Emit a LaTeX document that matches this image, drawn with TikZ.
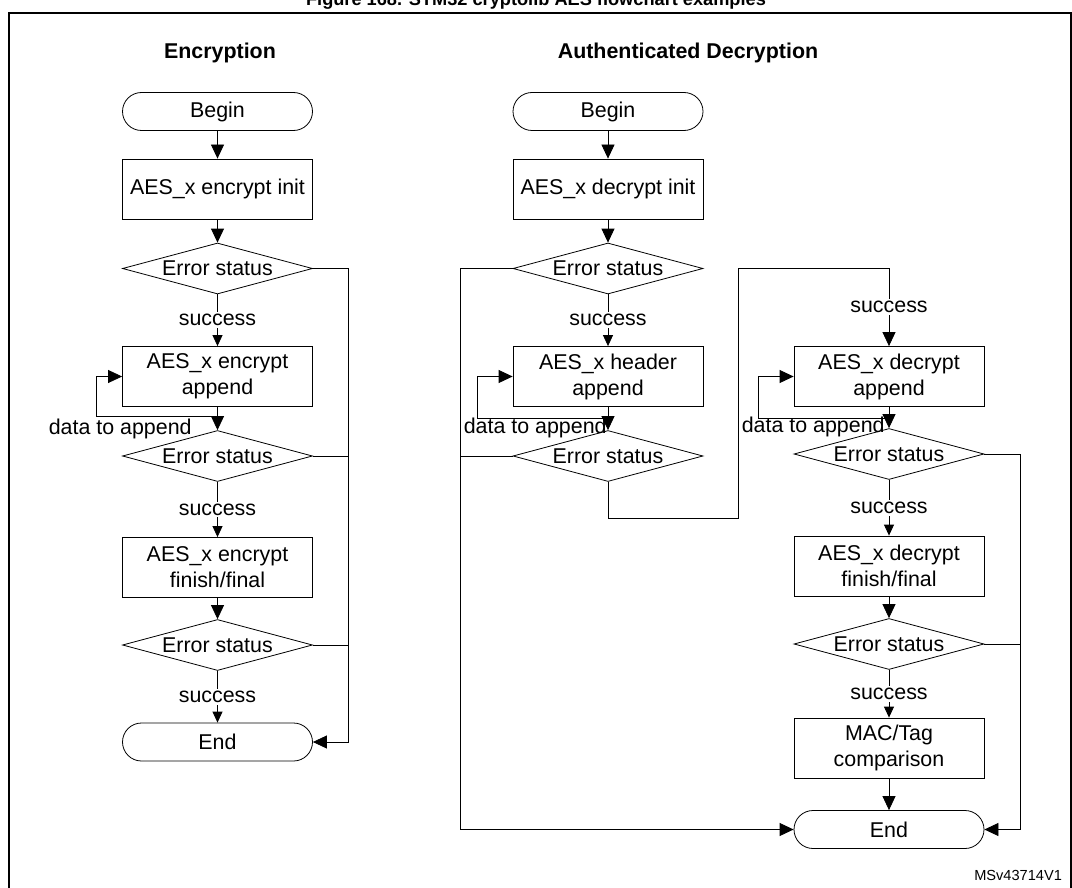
\documentclass[tikz,border=0pt]{standalone}
\usepackage{fontspec}
\setmainfont{Liberation Sans}
\usetikzlibrary{shapes.geometric, arrows.meta, positioning}

\begin{document}
\begin{tikzpicture}[
            x=0.5pt, y=-0.5pt,
            font=\fontsize{10.7}{13}\selectfont,
            >={Triangle[width=6.5pt,length=7pt]},
            proc/.style={rectangle, draw, minimum width=95pt, minimum height=30pt, align=center, inner sep=1pt},
            term/.style={rectangle, draw, rounded corners=9.5pt, minimum width=95pt, minimum height=19pt},
            dec/.style={diamond, draw, aspect=3.7, minimum width=95pt, minimum height=25.5pt, inner sep=0pt},
            head/.style={font=\fontsize{10.7}{13}\selectfont\bfseries},
            ok/.style={-{Triangle[width=5pt,length=5.5pt]}},
            lbl/.style={fill=white, inner sep=1pt}
        ]
            \useasboundingbox (0,0) rectangle (1072,888);
            \draw[line width=1pt] (9,13) rectangle (1071,900);
            \node[font=\fontsize{9.1}{11}\selectfont\bfseries, anchor=base] (figtitle) at (536,6) {Figure 168. STM32 cryptolib AES flowchart examples};

            % encryption
            \node[head] (etitle) at (220,53) {Encryption};
            \node[term] (ebegin) at (217.5,111.5) {Begin};
            \node[proc, node distance=38.75pt, below of=ebegin] (einit) {AES\_x encrypt init};
            \node[dec, node distance=39.75pt, below of=einit] (eerr1) {Error status};
            \node[proc, node distance=54pt, below of=eerr1] (eapp) {AES\_x encrypt\\append};
            \node[dec, node distance=39.75pt, below of=eapp] (eerr2) {Error status};
            \node[proc, node distance=55.75pt, below of=eerr2] (efin) {AES\_x encrypt\\finish/final};
            \node[dec, node distance=38.75pt, below of=efin] (eerr3) {Error status};
            \node[term, node distance=48.5pt, below of=eerr3] (eend) {End};
            \draw[->] (ebegin) -- (einit);
            \draw[->] (einit) -- (eerr1);
            \draw[ok] (eerr1) -- node[lbl] {success} (eapp);
            \draw[->] (eapp) -- (eerr2);
            \draw[ok] (eerr2) -- node[lbl] {success} (efin);
            \draw[->] (efin) -- (eerr3);
            \draw[ok] (eerr3) -- node[lbl] {success} (eend);
            \coordinate[below=4.5pt of eapp.south] (eloop);
            \draw[->] (eloop) -| ([xshift=-12.75pt]eapp.west) -- (eapp.west);
            \node[anchor=east, inner sep=0pt] (elbl) at ([xshift=-12.75pt, yshift=-6.5pt]eloop) {data to append};
            \draw[->] (eerr1.east) -- ++(17.75pt,0) |- (eend.east);
            \draw (eerr2.east) -- ++(17.75pt,0);
            \draw (eerr3.east) -- ++(17.75pt,0);

            % authenticated decryption
            \node[head] (dtitle) at (688,53) {Authenticated Decryption};
            \node[term] (dbegin) at (608,111.5) {Begin};
            \node[proc, node distance=38.75pt, below of=dbegin] (dinit) {AES\_x decrypt init};
            \node[dec, node distance=39.75pt, below of=dinit] (derr1) {Error status};
            \node[proc, node distance=54pt, below of=derr1] (dhdr) {AES\_x header\\append};
            \node[dec, node distance=39.75pt, below of=dhdr] (derr2) {Error status};
            \node[proc, node distance=140.5pt, right of=dhdr] (dapp) {AES\_x decrypt\\append};
            \node[dec, node distance=38.75pt, below of=dapp] (derr3) {Error status};
            \node[proc, node distance=56pt, below of=derr3] (dfin) {AES\_x decrypt\\finish/final};
            \node[dec, node distance=39pt, below of=dfin] (derr4) {Error status};
            \node[proc, node distance=52pt, below of=derr4] (dmac) {MAC/Tag\\comparison};
            \node[term, node distance=40.75pt, below of=dmac] (dend) {End};
            \draw[->] (dbegin) -- (dinit);
            \draw[->] (dinit) -- (derr1);
            \draw[ok] (derr1) -- node[lbl] {success} (dhdr);
            \draw[->] (dhdr) -- (derr2);
            \coordinate[below=5.5pt of dhdr.south] (dhloop);
            \draw[->] (dhloop) -| ([xshift=-17.75pt]dhdr.west) -- (dhdr.west);
            \node[anchor=east, inner sep=0pt] (dhlbl) at ([xshift=-0.5pt, yshift=-5pt]dhloop) {data to append};
            \draw[->] (derr2.south) -- ++(0,-18pt) -- ++(65pt,0) |- (derr1.east -| dapp.north) -- node[lbl] {success} (dapp.north);
            \draw[->] (dapp) -- (derr3);
            \coordinate[below=5.5pt of dapp.south] (daloop);
            \draw[->] (daloop) -| ([xshift=-17.75pt]dapp.west) -- (dapp.west);
            \node[anchor=east, inner sep=0pt] (dalbl) at ([xshift=-2pt, yshift=-4.5pt]daloop) {data to append};
            \draw[ok] (derr3) -- node[lbl] {success} (dfin);
            \draw[->] (dfin) -- (derr4);
            \draw[ok] (derr4) -- node[lbl] {success} (dmac);
            \draw[->] (dmac) -- (dend);
            \draw[->] (derr1.west) -- ++(-26pt,0) |- (dend.west);
            \draw (derr2.west) -- ++(-26pt,0);
            \draw[->] (derr3.east) -- ++(17.75pt,0) |- (dend.east);
            \draw (derr4.east) -- ++(17.75pt,0);

            \node[font=\fontsize{7.3}{9}\selectfont, anchor=east] (msv) at (1069,875) {MSv43714V1};
        \end{tikzpicture}
\end{document}
